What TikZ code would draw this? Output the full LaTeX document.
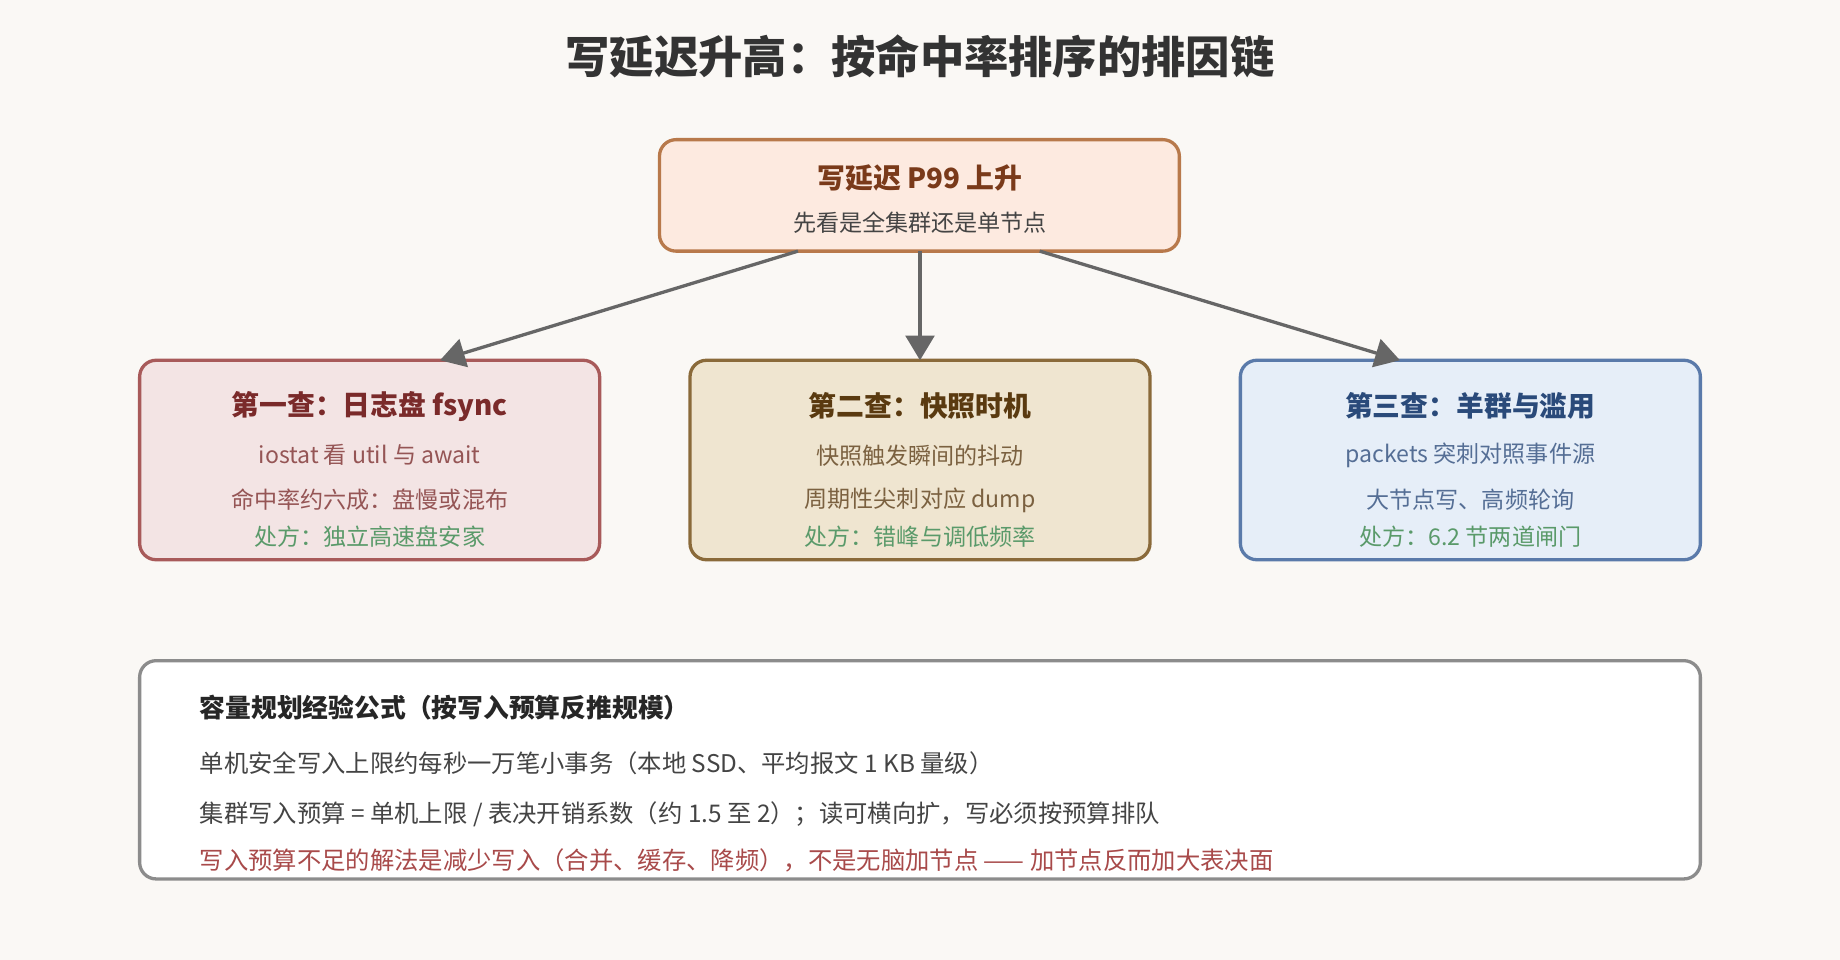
\documentclass[tikz,border=0pt]{standalone}
\usepackage{fontspec}
\setmainfont{Noto Sans CJK SC}
\usetikzlibrary{arrows.meta}
\definecolor{bgc}{HTML}{FAF8F5}
\definecolor{topfill}{HTML}{FDEAE0}\definecolor{topdraw}{HTML}{B8794B}\definecolor{toptext}{HTML}{7A3A1A}
\definecolor{lfill}{HTML}{F3E4E4}\definecolor{ldraw}{HTML}{A85A5A}\definecolor{ltext}{HTML}{7A2A2A}
\definecolor{mfill}{HTML}{EFE5D0}\definecolor{mdraw}{HTML}{8A6A3A}\definecolor{mtext}{HTML}{5A3A10}
\definecolor{rfill}{HTML}{E6EEF8}\definecolor{rdraw}{HTML}{5A7AAA}\definecolor{rtext}{HTML}{2A4A7A}
\definecolor{okgreen}{HTML}{5A9A6A}\definecolor{warnred}{HTML}{A84A4A}\definecolor{bodytext}{HTML}{444444}
\tikzset{
	box/.style = {draw, line width=1.6pt, rounded corners=8pt, minimum height=#1*0.02cm, inner sep=0pt},
	head/.style = {font=\fontsize{13.5}{15}\selectfont\bfseries},
	line/.style = {font=\fontsize{11.2}{13}\selectfont},
	wide/.style = {font=\fontsize{11.8}{14}\selectfont, inner sep=0pt, anchor=west},
	link/.style = {draw=black!60, line width=1.6pt, -{Triangle[length=12pt,width=14pt]}}
}
\begin{document}
\begin{tikzpicture}[x=0.02cm, y=-0.02cm]
	\fill [bgc] (0, 0) rectangle (1568, 818);
	\useasboundingbox (0, 0) rectangle (1568, 818);
	
	% 标题
	\node (title) at (784, 48) {\fontsize{21.5}{24}\selectfont\bfseries\color{black!80} 写延迟升高：按命中率排序的排因链};
	
	% 顶部
	\draw [box=95, fill=topfill, draw=topdraw] (562, 119) rectangle (1005, 214);
	\coordinate (topl) at (680, 214);
	\coordinate (topm) at (784, 214);
	\coordinate (topr) at (886, 214);
	\node [head, text=toptext] (toph) at (784, 152) {写延迟 P99 上升};
	\node [line, text=bodytext] (tops) at (784, 190) {先看是全集群还是单节点};
	
	% 三查
	\draw [box=170, fill=lfill, draw=ldraw] (119, 307) rectangle (511, 477);
	\draw [box=170, fill=mfill, draw=mdraw] (588, 307) rectangle (980, 477);
	\draw [box=170, fill=rfill, draw=rdraw] (1057, 307) rectangle (1449, 477);
	\coordinate (lin) at (375, 307);
	\coordinate (min) at (784, 307);
	\coordinate (rin) at (1193, 307);
	
	\node [head, text=ltext] (l1) at (315, 346) {第一查：日志盘 fsync};
	\node [line, text=ltext!80] (l2) at (315, 388) {iostat 看 util 与 await};
	\node [line, text=ltext!80] (l3) at (315, 426) {命中率约六成：盘慢或混布};
	\node [line, text=okgreen] (l4) at (315, 457) {处方：独立高速盘安家};
	
	\node [head, text=mtext] (m1) at (784, 346) {第二查：快照时机};
	\node [line, text=mtext!80] (m2) at (784, 388) {快照触发瞬间的抖动};
	\node [line, text=mtext!80] (m3) at (784, 426) {周期性尖刺对应 dump};
	\node [line, text=okgreen] (m4) at (784, 457) {处方：错峰与调低频率};
	
	\node [head, text=rtext] (r1) at (1253, 346) {第三查：羊群与滥用};
	\node [line, text=rtext!80] (r2) at (1253, 388) {packets 突刺对照事件源};
	\node [line, text=rtext!80] (r3) at (1253, 426) {大节点写、高频轮询};
	\node [line, text=okgreen] (r4) at (1253, 457) {处方：6.2 节两道闸门};
	
	\draw [link] (topl) -- (lin);
	\draw [link] (topm) -- (min);
	\draw [link] (topr) -- (rin);
	
	% 容量规划
	\draw [box=186, fill=white, draw=black!45] (119, 563) rectangle (1449, 749);
	\node [wide, text=black!85] (b1) at (170, 603) {\fontsize{12.5}{14}\selectfont\bfseries 容量规划经验公式（按写入预算反推规模）};
	\node [wide, text=bodytext] (b2) at (170, 650) {单机安全写入上限约每秒一万笔小事务（本地 SSD、平均报文 1 KB 量级）};
	\node [wide, text=bodytext] (b3) at (170, 694) {集群写入预算 = 单机上限 / 表决开销系数（约 1.5 至 2）；读可横向扩，写必须按预算排队};
	\node [wide, text=warnred] (b4) at (170, 733) {写入预算不足的解法是减少写入（合并、缓存、降频），不是无脑加节点 —— 加节点反而加大表决面};
\end{tikzpicture}
\end{document}
